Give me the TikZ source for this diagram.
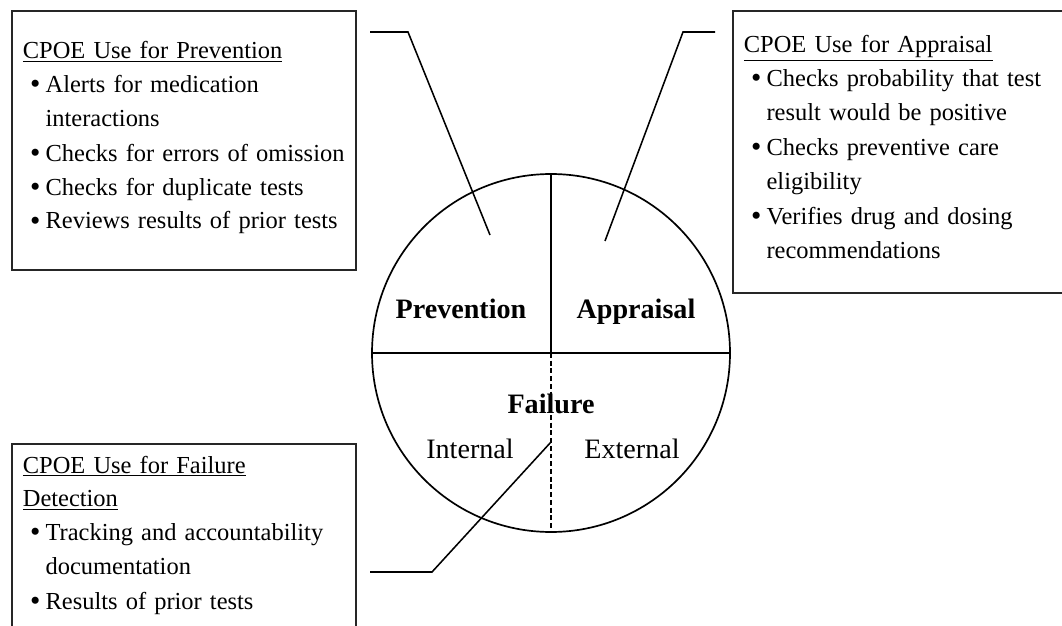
\documentclass[tikz,border=0pt]{standalone}
\usepackage{fontspec}
\setmainfont{Liberation Serif}
\newcommand{\cpoeitem}[1]{\par\noindent\hspace*{0.3em}\makebox[0.63em][l]{\raisebox{-0.05em}{\fontsize{21}{24}\selectfont\textbullet}}\begin{tabular}[t]{@{}l@{}}#1\end{tabular}}
\begin{document}
\begin{tikzpicture}[
  cpoebox/.style={draw=black!85,line width=1.2pt,anchor=north west,align=left,
    inner xsep=0.275cm,text width=8.05cm,font=\fontsize{17.4}{24}\selectfont},
  wedgetext/.style={anchor=base,font=\fontsize{20}{24}\selectfont},
  leader/.style={line width=1.1pt}
]
\useasboundingbox (0,0) rectangle (26.55,-15.65);
\clip (0,0) rectangle (26.55,-15.65);
% the wheel
\node[draw,circle,line width=1.2pt,minimum size=8.95cm,inner sep=0pt] (wheel) at (13.775,-8.825) {};
\draw[line width=1.2pt] (wheel.west) -- (wheel.east);
\draw[line width=1.2pt] (wheel.north) -- (wheel.center);
\draw[line width=1pt,dash pattern=on 3.5pt off 2pt] (wheel.center) -- (wheel.south);
\node[wedgetext,font=\fontsize{20}{24}\selectfont\bfseries] (prevlbl) at (11.525,-7.95) {Prevention};
\node[wedgetext,font=\fontsize{20}{24}\selectfont\bfseries] (applbl) at (15.9,-7.95) {Appraisal};
\node[wedgetext,font=\fontsize{20}{24}\selectfont\bfseries] (faillbl) at (13.775,-10.325) {Failure};
\node[wedgetext] (intlbl) at (11.75,-11.45) {Internal};
\node[wedgetext] (extlbl) at (15.8,-11.45) {External};
% the boxes
\node[cpoebox,inner ysep=0.77cm] (prevbox) at (0.275,-0.25) {\underline{CPOE Use for Prevention}
  \cpoeitem{Alerts for medication\\ interactions}
  \cpoeitem{Checks for errors of omission}
  \cpoeitem{Checks for duplicate tests}
  \cpoeitem{Reviews results of prior tests}\par};
\node[cpoebox,inner ysep=0.62cm,text width=9cm] (appbox) at (18.3,-0.25) {\underline{CPOE Use for Appraisal}
  \cpoeitem{Checks probability that test\\ result would be positive}
  \cpoeitem{Checks preventive care\\ eligibility}
  \cpoeitem{Verifies drug and dosing\\ recommendations}\par};
\node[cpoebox,inner ysep=0.3cm] (failbox) at (0.275,-11.075) {\underline{CPOE Use for Failure}\newline\underline{Detection}
  \cpoeitem{Tracking and accountability\\ documentation}
  \cpoeitem{Results of prior tests}\par\vspace*{1cm}};
% leader lines
\coordinate (prevend) at (9.25,-0.8);
\coordinate (prevknee) at (10.2,-0.8);
\coordinate (prevtip) at (12.25,-5.875);
\coordinate (append) at (17.875,-0.8);
\coordinate (appknee) at (17.075,-0.8);
\coordinate (apptip) at (15.125,-6.025);
\coordinate (failend) at (9.25,-14.3);
\coordinate (failknee) at (10.8,-14.3);
\coordinate (failtip) at (13.775,-11.05);
\draw[leader] (prevend) -- (prevknee) -- (prevtip);
\draw[leader] (append) -- (appknee) -- (apptip);
\draw[leader] (failend) -- (failknee) -- (failtip);
\end{tikzpicture}
\end{document}
